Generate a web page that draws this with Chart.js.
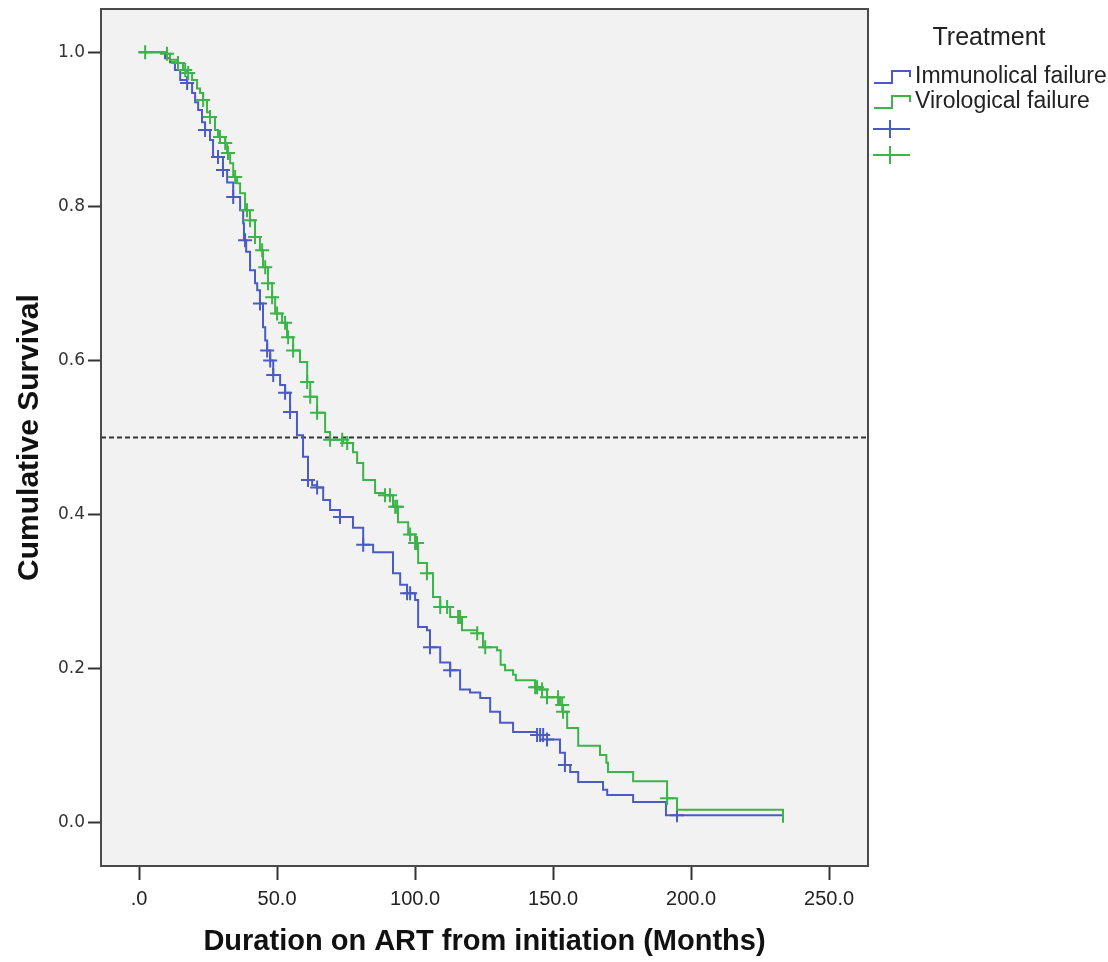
<!DOCTYPE html>
<html>
<head>
<meta charset="utf-8">
<script src="https://cdn.jsdelivr.net/npm/chart.js@4"></script>
<style>
  html, body { margin: 0; padding: 0; background: #ffffff; }
  canvas { display: block; }
</style>
</head>
<body>
<canvas id="kmChart" width="1108" height="962"></canvas>
<script>
// Kaplan-Meier estimates (months, cumulative survival)
const virTimes = [0, 10.1, 11.2, 13.8, 15.9, 17.4, 19.2, 21.0, 22.1, 23.2, 24.6, 25.7, 27.5, 28.6, 31.2, 31.9,
  33.0, 34.1, 35.5, 36.6, 38.4, 40.2, 42.0, 43.8, 44.9, 46.7, 48.2, 49.3, 51.8, 53.6, 55.8, 58.3, 60.9, 62.0,
  64.5, 67.4, 69.2, 73.9, 77.5, 79.0, 81.2, 85.5, 89.1, 92.0, 93.8, 97.5, 100.0, 101.1, 104.3, 106.5, 109.1,
  112.7, 117.0, 122.5, 124.6, 129.7, 131.0, 132.6, 135.5, 136.5, 143.5, 145.3, 147.8, 152.5, 153.6, 155.1,
  159.1, 167.0, 169.3, 169.9, 179.0, 191.3, 194.9, 233.3];
const virSurv = [1.0, 0.998, 0.990, 0.986, 0.977, 0.973, 0.964, 0.953, 0.947, 0.938, 0.922, 0.916, 0.899, 0.890,
  0.882, 0.869, 0.856, 0.838, 0.830, 0.817, 0.795, 0.782, 0.760, 0.743, 0.721, 0.700, 0.682, 0.661, 0.649,
  0.630, 0.613, 0.598, 0.572, 0.553, 0.532, 0.507, 0.497, 0.493, 0.481, 0.467, 0.445, 0.428, 0.425, 0.410,
  0.390, 0.374, 0.363, 0.337, 0.324, 0.293, 0.280, 0.267, 0.250, 0.246, 0.228, 0.224, 0.205, 0.198, 0.192,
  0.185, 0.176, 0.173, 0.163, 0.153, 0.144, 0.123, 0.100, 0.088, 0.078, 0.066, 0.054, 0.032, 0.017, 0.0];

const immTimes = [0, 9.4, 11.2, 13.0, 14.9, 17.4, 19.2, 20.3, 21.4, 22.8, 23.9, 25.7, 26.8, 30.4, 31.9, 34.1,
  36.6, 37.7, 38.0, 38.8, 40.2, 42.0, 42.8, 43.8, 44.9, 45.7, 46.4, 47.5, 48.6, 51.1, 52.9, 54.7, 57.2, 59.4,
  61.2, 62.7, 64.5, 66.7, 69.2, 72.8, 77.5, 81.2, 84.8, 92.0, 94.6, 97.1, 100.0, 101.1, 104.3, 105.4, 109.1,
  112.7, 116.3, 119.9, 123.6, 127.2, 130.8, 135.5, 144.2, 147.8, 152.5, 154.3, 156.2, 159.1, 168.1, 169.6,
  179.0, 190.9, 233.3];
const immSurv = [1.0, 0.992, 0.987, 0.977, 0.964, 0.960, 0.947, 0.935, 0.925, 0.909, 0.899, 0.886, 0.864,
  0.847, 0.831, 0.812, 0.795, 0.778, 0.756, 0.741, 0.717, 0.700, 0.691, 0.674, 0.643, 0.626, 0.613, 0.600,
  0.581, 0.568, 0.558, 0.533, 0.503, 0.475, 0.445, 0.438, 0.435, 0.419, 0.406, 0.397, 0.383, 0.361, 0.351,
  0.324, 0.309, 0.298, 0.289, 0.254, 0.250, 0.228, 0.208, 0.198, 0.173, 0.169, 0.162, 0.144, 0.130, 0.118,
  0.114, 0.108, 0.091, 0.075, 0.066, 0.053, 0.043, 0.036, 0.027, 0.010, 0.010];

// censored cases (months)
const virCensored = [2.2, 10.1, 14.1, 16.7, 17.8, 23.2, 25.7, 29.3, 31.2, 32.2, 34.8, 39.1, 40.2, 42.0, 44.6,
  45.7, 46.7, 48.2, 50.0, 52.9, 54.0, 55.8, 60.9, 62.0, 64.5, 69.2, 73.6, 75.4, 89.1, 90.9, 92.8, 93.5, 98.2,
  100.0, 100.7, 104.3, 109.1, 111.6, 115.6, 116.3, 122.5, 125.4, 143.5, 144.2, 146.0, 147.8, 151.8, 153.3,
  153.6, 191.3];
const immCensored = [17.4, 23.9, 28.6, 30.4, 34.1, 38.4, 43.8, 46.4, 47.5, 48.6, 52.9, 54.7, 61.2, 64.5, 72.8,
  81.2, 97.1, 98.2, 105.4, 112.7, 144.2, 145.3, 146.4, 147.8, 154.3, 194.9];

const seriesNames = ['Immunolical failure', 'Virological failure'];
const legendTitle = 'Treatment';
const xTicks = [0, 50, 100, 150, 200, 250];
const yTicks = [0, 0.2, 0.4, 0.6, 0.8, 1.0];
const medianLevel = 0.5;

const blue = '#4a5cc4';
const green = '#3cb44a';
const xMin = -13.8, xMax = 264.1;

function survAt(times, surv, t) {
  let s = surv[0];
  for (let i = 0; i < times.length; i++) {
    if (times[i] <= t) s = surv[i];
  }
  return s;
}
const curve = (times, surv) => times.map((t, i) => ({ x: t, y: surv[i] }));
const marks = (cens, times, surv) => cens.map(t => ({ x: t, y: survAt(times, surv, t) }));

const plotFrame = {
  id: 'plotFrame',
  beforeDatasetsDraw(chart) {
    const { ctx, chartArea: a } = chart;
    ctx.save();
    ctx.fillStyle = '#f2f2f2';
    ctx.fillRect(a.left, a.top, a.right - a.left, a.bottom - a.top);
    ctx.restore();
  },
  afterDraw(chart) {
    const { ctx, chartArea: a } = chart;
    ctx.save();
    ctx.strokeStyle = '#4a4a4a';
    ctx.lineWidth = 2;
    ctx.strokeRect(a.left, a.top, a.right - a.left, a.bottom - a.top);

    // legend in SPSS style
    ctx.fillStyle = '#222';
    ctx.textBaseline = 'middle';
    ctx.textAlign = 'center';
    ctx.font = '25px "Liberation Sans"';
    ctx.fillText(legendTitle, 989, 38);
    ctx.textAlign = 'left';
    ctx.font = '23px "Liberation Sans"';
    ctx.lineWidth = 2;
    [blue, green].forEach((c, i) => {
      const y = 77 + i * 25;
      ctx.strokeStyle = c;
      ctx.beginPath();
      ctx.moveTo(874, y + 6);
      ctx.lineTo(892, y + 6);
      ctx.lineTo(892, y - 6);
      ctx.lineTo(910, y - 6);
      ctx.lineTo(910, y);
      ctx.stroke();
      ctx.fillText(seriesNames[i], 915, y);
    });
    [blue, green].forEach((c, i) => {
      const y = 129 + i * 26;
      ctx.strokeStyle = c;
      ctx.beginPath();
      ctx.moveTo(873, y);
      ctx.lineTo(910, y);
      ctx.moveTo(890, y - 9);
      ctx.lineTo(890, y + 9);
      ctx.stroke();
    });
    ctx.restore();
  }
};

new Chart(document.getElementById('kmChart'), {
  type: 'line',
  data: {
    datasets: [
      {
        label: seriesNames[1] + ' censored',
        data: marks(virCensored, virTimes, virSurv),
        showLine: false,
        pointStyle: 'cross',
        pointRadius: 7,
        pointBorderWidth: 2,
        borderColor: green,
      },
      {
        label: seriesNames[1],
        data: curve(virTimes, virSurv),
        stepped: true,
        borderColor: green,
        borderWidth: 2,
        pointRadius: 0,
        fill: false,
      },
      {
        label: seriesNames[0] + ' censored',
        data: marks(immCensored, immTimes, immSurv),
        showLine: false,
        pointStyle: 'cross',
        pointRadius: 7,
        pointBorderWidth: 2,
        borderColor: blue,
      },
      {
        label: seriesNames[0],
        data: curve(immTimes, immSurv),
        stepped: true,
        borderColor: blue,
        borderWidth: 2,
        pointRadius: 0,
        fill: false,
      },
      {
        label: 'median',
        data: [{ x: xMin, y: medianLevel }, { x: xMax, y: medianLevel }],
        borderColor: '#333',
        borderWidth: 2,
        borderDash: [5, 3],
        pointRadius: 0,
      },
    ],
  },
  options: {
    responsive: false,
    animation: false,
    layout: { padding: { top: 9, right: 240, left: 0, bottom: 0 } },
    plugins: {
      legend: { display: false },
      tooltip: { enabled: false },
    },
    scales: {
      x: {
        type: 'linear',
        min: xMin,
        max: xMax,
        afterBuildTicks: (s) => { s.ticks = xTicks.map(v => ({ value: v })); },
        afterFit: (s) => { s.height = 96; s.paddingLeft = 0; s.paddingRight = 0; },
        grid: { drawOnChartArea: false, drawTicks: true, tickLength: 14, tickWidth: 2, tickColor: '#333' },
        border: { display: false },
        ticks: {
          padding: 7,
          color: '#222',
          font: { family: "'Liberation Sans Narrow', 'Liberation Sans'", size: 20 },
          maxRotation: 0,
          autoSkip: false,
          callback: (v) => (v === 0 ? '.0' : v.toFixed(1)),
        },
        title: {
          display: true,
          text: 'Duration on ART from initiation (Months)',
          color: '#111',
          font: { family: "'Liberation Sans'", size: 29, weight: 'bold' },
          padding: { top: 0, bottom: 3 },
        },
      },
      y: {
        type: 'linear',
        min: -0.056,
        max: 1.056,
        afterBuildTicks: (s) => { s.ticks = yTicks.map(v => ({ value: v })); },
        afterFit: (s) => { s.width = 101; s.paddingTop = 0; s.paddingBottom = 0; },
        grid: { drawOnChartArea: false, drawTicks: true, tickLength: 13, tickWidth: 2, tickColor: '#333' },
        border: { display: false },
        ticks: {
          padding: 3,
          color: '#333',
          font: { family: "'DejaVu Sans'", size: 17 },
          autoSkip: false,
          callback: (v) => v.toFixed(1),
        },
        title: {
          display: true,
          text: 'Cumulative Survival',
          color: '#111',
          font: { family: "'Liberation Sans'", size: 30, weight: 'bold' },
          padding: { top: 12, bottom: 0 },
        },
      },
    },
  },
  plugins: [plotFrame],
});
</script>
</body>
</html>
